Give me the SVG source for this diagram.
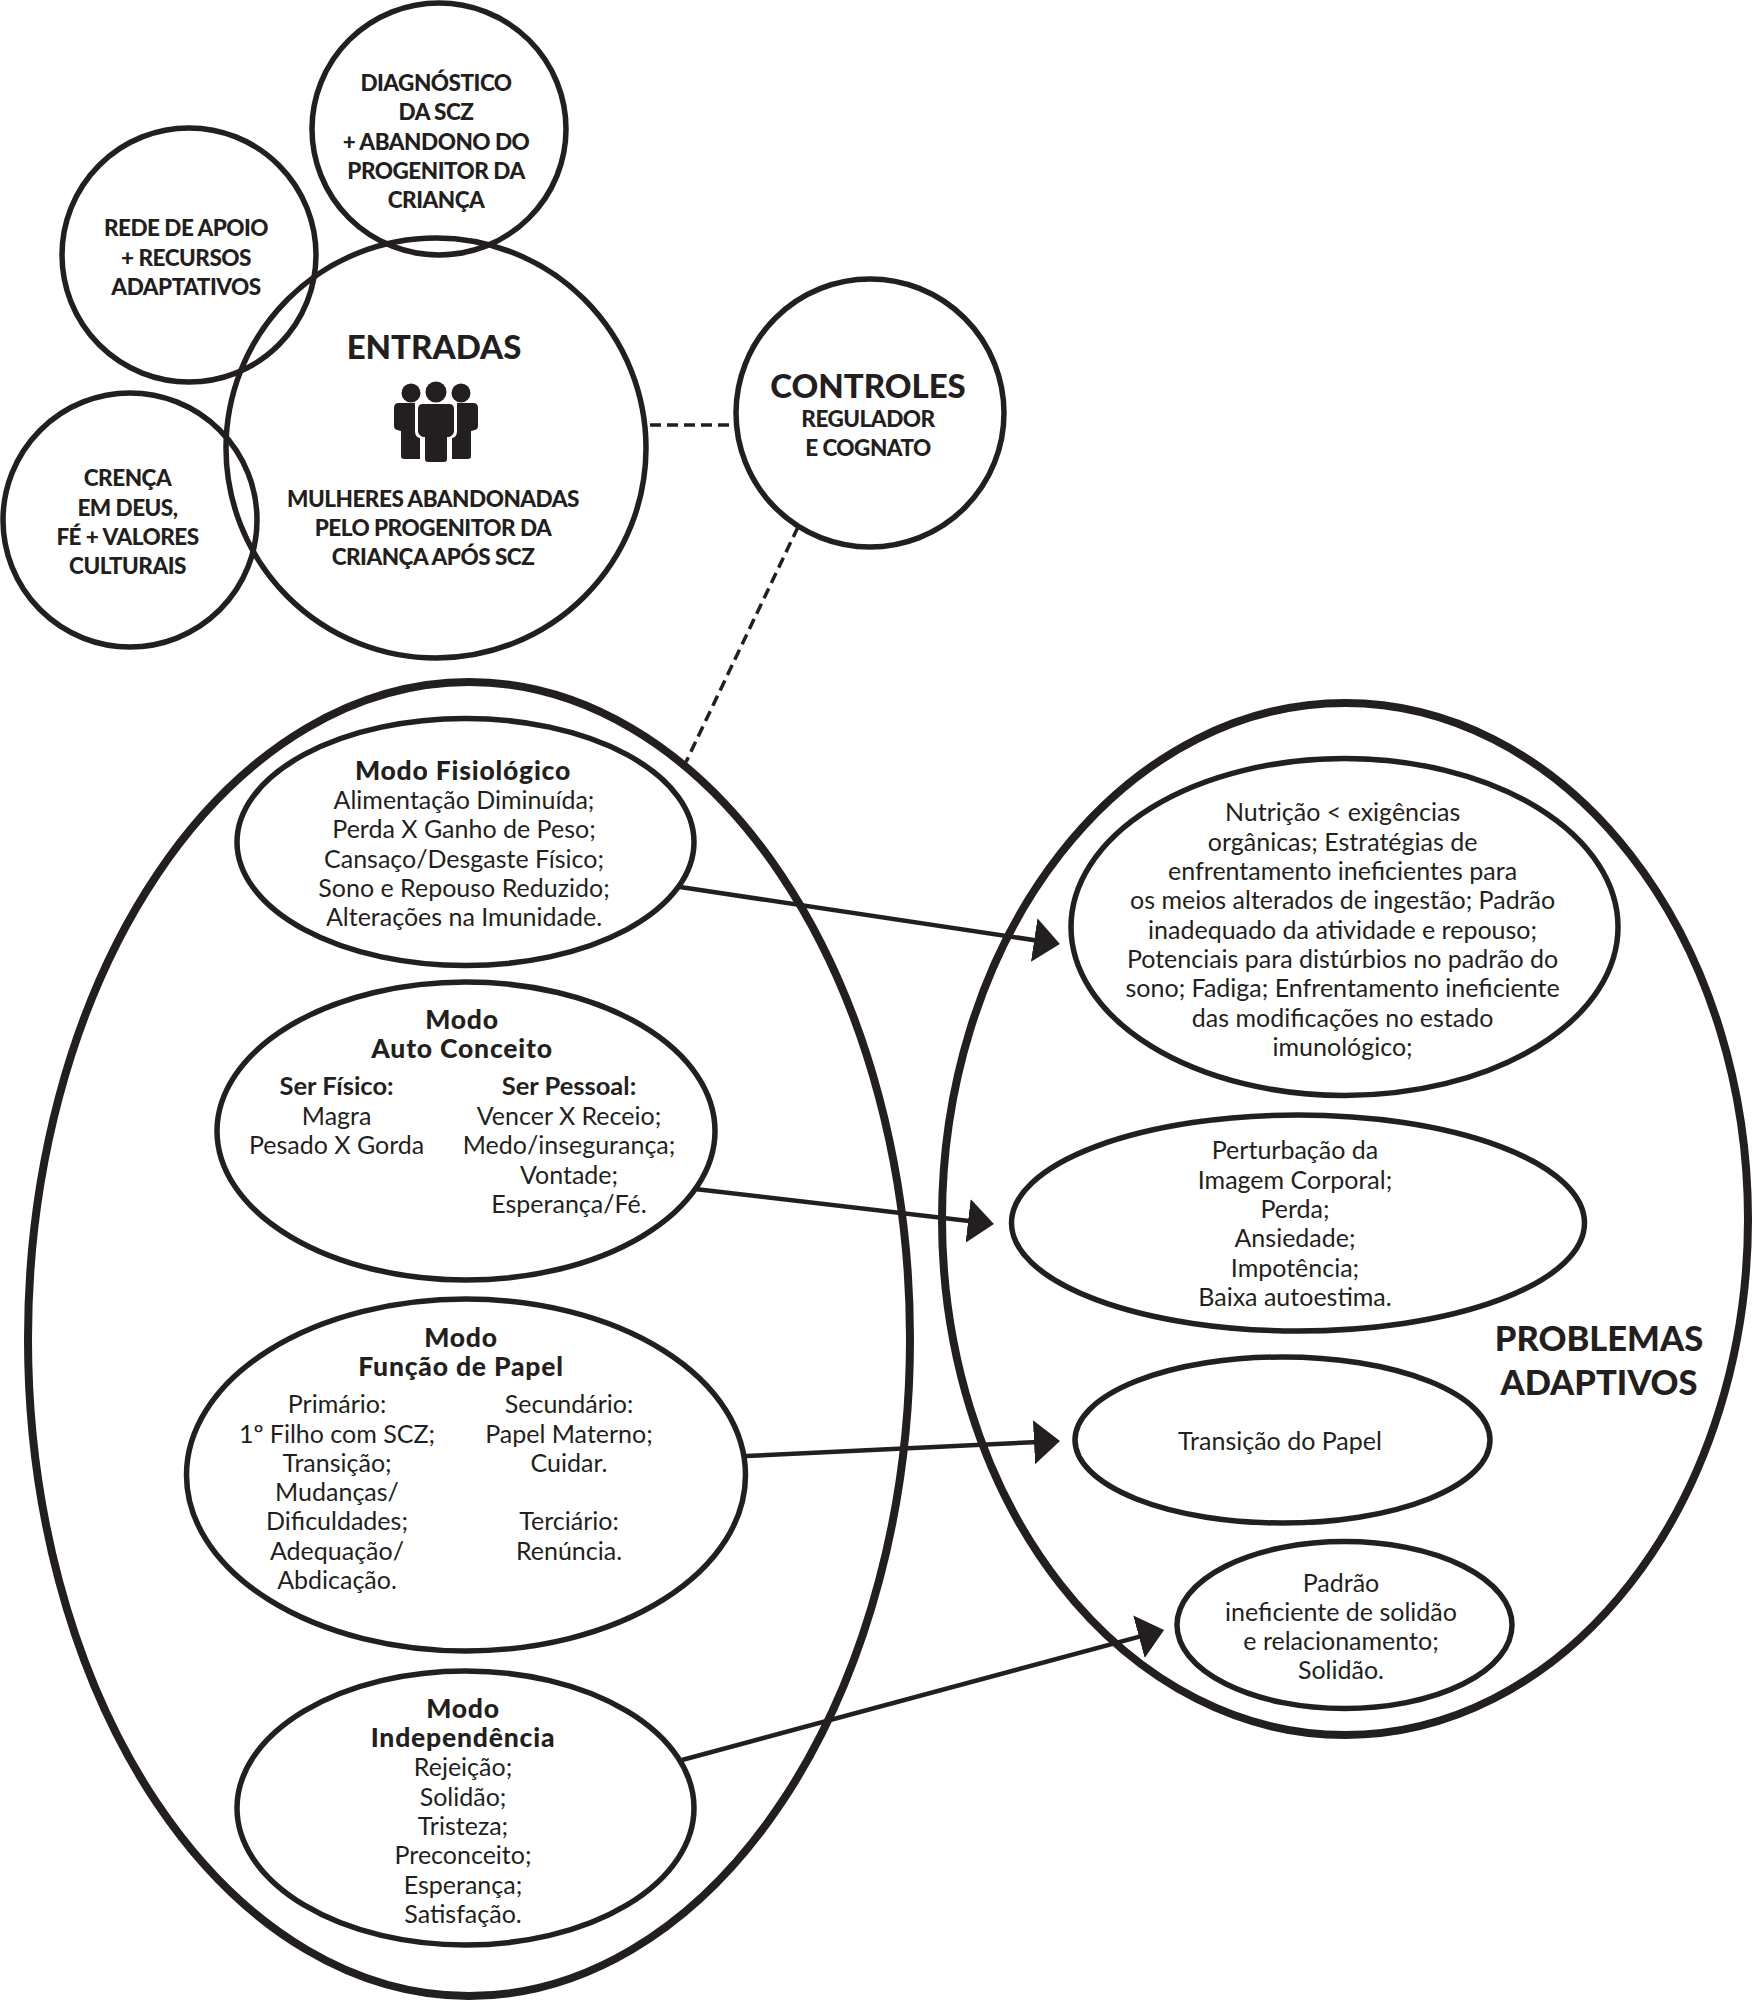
<svg xmlns="http://www.w3.org/2000/svg" width="1752" height="2000" viewBox="0 0 1752 2000">
<style>
text{font-family:"Lato","Open Sans","Liberation Sans",sans-serif;fill:#231f20;text-anchor:middle;font-size:25px;transform:translateY(1px)}
.b{font-weight:700;font-size:25.5px}
.t{font-weight:900;font-size:26.5px;letter-spacing:.8px}
.h{font-weight:900;font-size:33px}
.p{font-weight:900;font-size:34.5px}
.s{font-weight:900;font-size:22.5px;letter-spacing:-.5px}
ellipse{fill:none;stroke:#231f20;stroke-width:5.5}
.big{stroke-width:8}
.c{stroke:#231f20;fill:none;stroke-width:4.5}
.d{stroke:#231f20;fill:none;stroke-width:3.5;stroke-dasharray:11 6}
</style>
<defs>
<marker id="ah" markerUnits="userSpaceOnUse" markerWidth="28" markerHeight="46" refX="16" refY="22" orient="auto"><path d="M0 0L26 22L0 44Z" fill="#231f20"/></marker>
</defs>
<rect width="1752" height="2000" fill="#fff"/>
<g id="connectors">
<line class="d" x1="650" y1="425" x2="733" y2="425"/>
<line class="d" x1="798" y1="527" x2="686" y2="762"/>
<line class="c" x1="680" y1="887" x2="1050" y2="942.5" marker-end="url(#ah)"/>
<line class="c" x1="695" y1="1189" x2="984" y2="1222.8" marker-end="url(#ah)"/>
<line class="c" x1="746" y1="1456" x2="1050" y2="1441.5" marker-end="url(#ah)"/>
<line class="c" x1="682" y1="1760" x2="1154.4" y2="1632.6" marker-end="url(#ah)"/>
</g>
<g id="diagnostico"><ellipse cx="439" cy="129" rx="127" ry="126"/>
<text class="s" x="436" y="90">DIAGNÓSTICO</text><text class="s" x="436" y="119">DA SCZ</text><text class="s" x="436" y="148.5">+ ABANDONO DO</text><text class="s" x="436" y="178">PROGENITOR DA</text><text class="s" x="436" y="207">CRIANÇA</text></g>
<g id="rede"><ellipse cx="189" cy="255" rx="127" ry="127"/>
<text class="s" x="186" y="235">REDE DE APOIO</text><text class="s" x="186" y="264.6">+ RECURSOS</text><text class="s" x="186" y="294">ADAPTATIVOS</text></g>
<g id="crenca"><ellipse cx="130" cy="520" rx="127" ry="127"/>
<text class="s" x="127.5" y="485">CRENÇA</text><text class="s" x="127.5" y="514.5">EM DEUS,</text><text class="s" x="127.5" y="544">FÉ + VALORES</text><text class="s" x="127.5" y="573">CULTURAIS</text></g>
<g id="entradas"><ellipse cx="436" cy="448" rx="210" ry="210"/>
<text class="h" x="434" y="358">ENTRADAS</text>
<g fill="#231f20">
<circle cx="411" cy="393" r="9.5"/><circle cx="436" cy="392" r="10.5"/><circle cx="461" cy="393" r="9.5"/>
<path d="M399 403H415V431Q415 437 420 438V459H404Q401 459 401 456V431L397 430Q394 429 394 426V408Q394 403 399 403Z"/>
<path d="M473 403H457V431Q457 437 452 438V459H468Q471 459 471 456V431L475 430Q478 429 478 426V408Q478 403 473 403Z"/>
<path d="M423 404H449Q454 404 454 409V431Q454 435 449 437H447V459Q447 462 444 462H428Q425 462 425 459V437H423Q418 435 418 431V409Q418 404 423 404Z"/>
</g>
<text class="s" x="433" y="505.5">MULHERES ABANDONADAS</text><text class="s" x="433" y="535">PELO PROGENITOR DA</text><text class="s" x="433" y="564">CRIANÇA APÓS SCZ</text></g>
<g id="controles"><ellipse cx="870" cy="413" rx="134" ry="134"/>
<text class="h" x="868" y="396.5">CONTROLES</text><text class="s" x="868" y="426">REGULADOR</text><text class="s" x="868" y="455">E COGNATO</text></g>
<g id="modos"><ellipse class="big" cx="469" cy="1339" rx="441" ry="657"/></g>
<g id="problemas"><ellipse class="big" cx="1345" cy="1219" rx="403" ry="516"/>
<text class="p" x="1599" y="1350">PROBLEMAS</text><text class="p" x="1599" y="1394">ADAPTIVOS</text></g>
<g id="fisiologico"><ellipse cx="465.5" cy="842" rx="228.5" ry="123.5"/>
<text class="t" x="463" y="779">Modo Fisiológico</text>
<text x="464" y="808">Alimentação Diminuída;</text><text x="464" y="837">Perda X Ganho de Peso;</text><text x="464" y="866.5">Cansaço/Desgaste Físico;</text><text x="464" y="896">Sono e Repouso Reduzido;</text><text x="464" y="925">Alterações na Imunidade.</text></g>
<g id="autoconceito"><ellipse cx="466" cy="1131" rx="249" ry="149"/>
<text class="t" x="462" y="1028">Modo</text><text class="t" x="462" y="1057">Auto Conceito</text>
<text class="b" x="336.6" y="1094">Ser Físico:</text><text x="336.6" y="1124">Magra</text><text x="336.6" y="1153">Pesado X Gorda</text>
<text class="b" x="569" y="1094">Ser Pessoal:</text><text x="569" y="1124">Vencer X Receio;</text><text x="569" y="1153">Medo/insegurança;</text><text x="569" y="1182.5">Vontade;</text><text x="569" y="1212">Esperança/Fé.</text></g>
<g id="funcao"><ellipse cx="466" cy="1475" rx="279.5" ry="176"/>
<text class="t" x="461" y="1346">Modo</text><text class="t" x="461" y="1375">Função de Papel</text>
<text x="337" y="1412">Primário:</text><text x="337" y="1441.5">1º Filho com SCZ;</text><text x="337" y="1471">Transição;</text><text x="337" y="1500">Mudanças/</text><text x="337" y="1529">Dificuldades;</text><text x="337" y="1559">Adequação/</text><text x="337" y="1588">Abdicação.</text>
<text x="569" y="1412">Secundário:</text><text x="569" y="1441.5">Papel Materno;</text><text x="569" y="1471">Cuidar.</text><text x="569" y="1529">Terciário:</text><text x="569" y="1559">Renúncia.</text></g>
<g id="independencia"><ellipse cx="465.5" cy="1808" rx="228.5" ry="137"/>
<text class="t" x="463" y="1716.5">Modo</text><text class="t" x="463" y="1746">Independência</text>
<text x="463" y="1775">Rejeição;</text><text x="463" y="1805">Solidão;</text><text x="463" y="1834">Tristeza;</text><text x="463" y="1863">Preconceito;</text><text x="463" y="1893">Esperança;</text><text x="463" y="1922">Satisfação.</text></g>
<g id="problema1"><ellipse cx="1344.5" cy="927" rx="273.5" ry="168.5"/>
<text x="1342.6" y="820">Nutrição &lt; exigências</text><text x="1342.6" y="850">orgânicas; Estratégias de</text><text x="1342.6" y="879">enfrentamento ineficientes para</text><text x="1342.6" y="908">os meios alterados de ingestão; Padrão</text><text x="1342.6" y="938">inadequado da atividade e repouso;</text><text x="1342.6" y="967">Potenciais para distúrbios no padrão do</text><text x="1342.6" y="996">sono; Fadiga; Enfrentamento ineficiente</text><text x="1342.6" y="1026">das modificações no estado</text><text x="1342.6" y="1055">imunológico;</text></g>
<g id="problema2"><ellipse cx="1298" cy="1223" rx="286.5" ry="108"/>
<text x="1295" y="1158">Perturbação da</text><text x="1295" y="1188">Imagem Corporal;</text><text x="1295" y="1217">Perda;</text><text x="1295" y="1246">Ansiedade;</text><text x="1295" y="1276">Impotência;</text><text x="1295" y="1305">Baixa autoestima.</text></g>
<g id="problema3"><ellipse cx="1282.5" cy="1440" rx="207.5" ry="83"/>
<text x="1280" y="1449">Transição do Papel</text></g>
<g id="problema4"><ellipse cx="1344.5" cy="1625" rx="167.5" ry="83.5"/>
<text x="1341" y="1590.5">Padrão</text><text x="1341" y="1620">ineficiente de solidão</text><text x="1341" y="1649">e relacionamento;</text><text x="1341" y="1678">Solidão.</text></g>
</svg>
